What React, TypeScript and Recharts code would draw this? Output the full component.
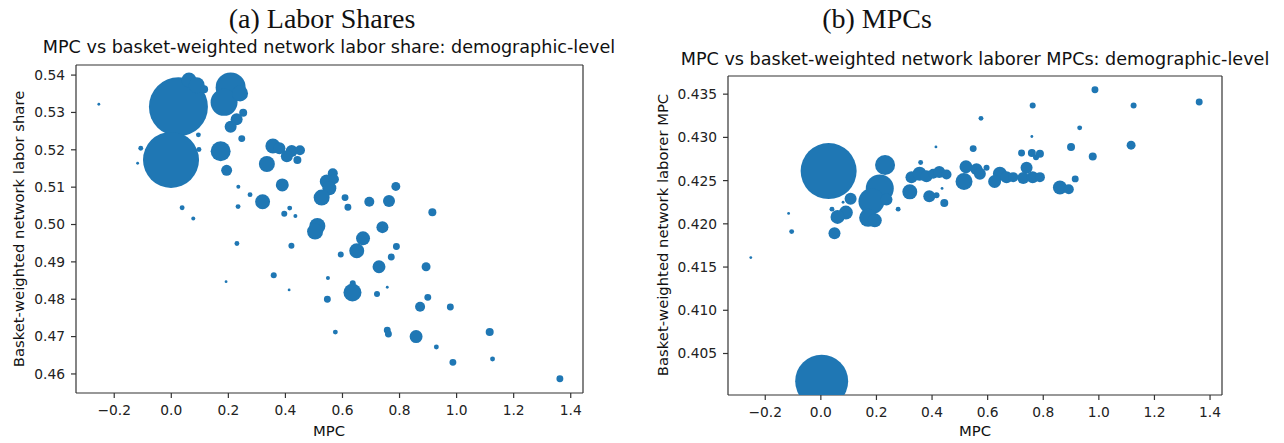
import { ScatterChart, Scatter, XAxis, YAxis, ZAxis } from "recharts";

// panel (a): MPC vs basket-weighted network labor share
const shareMpc = [
  -0.254, 0.025, -0.001, 0.062, 0.089, 0.115, -0.107, -0.118, 0.095, 0.097,
  0.208, 0.185, 0.241, 0.252, 0.229, 0.208, 0.247, 0.173, 0.194, 0.235,
  0.276, 0.32, 0.234, 0.038, 0.077, 0.356, 0.379, 0.335, 0.422, 0.451,
  0.405, 0.442, 0.389, 0.415, 0.396, 0.435, 0.566, 0.545, 0.57, 0.554,
  0.527, 0.609, 0.619, 0.694, 0.763, 0.787, 0.915, 0.512, 0.504, 0.74,
  0.672, 0.65, 0.789, 0.771, 0.728, 0.893, 0.594, 0.23, 0.421, 0.359,
  0.549, 0.636, 0.635, 0.757, 0.721, 0.547, 0.899, 0.872, 0.978, 0.757,
  0.761, 0.575, 0.858, 1.116, 0.929, 0.987, 1.126, 1.362, 0.192, 0.413,
];
const laborShare = [
  0.5322, 0.5315, 0.5173, 0.5387, 0.5373, 0.5362, 0.5204, 0.5164, 0.524, 0.5201,
  0.5367, 0.5327, 0.5351, 0.5299, 0.5282, 0.5262, 0.523, 0.5196, 0.5145, 0.5101,
  0.508, 0.5061, 0.5048, 0.5045, 0.5016, 0.521, 0.5204, 0.5162, 0.5197, 0.5199,
  0.5183, 0.5173, 0.5106, 0.5044, 0.5029, 0.5023, 0.5137, 0.5115, 0.5121, 0.5097,
  0.5072, 0.5072, 0.5046, 0.5061, 0.5063, 0.5102, 0.5033, 0.4996, 0.4981, 0.4993,
  0.4963, 0.493, 0.4941, 0.4913, 0.4887, 0.4887, 0.492, 0.4949, 0.4943, 0.4864,
  0.4857, 0.4843, 0.4818, 0.4832, 0.4814, 0.48, 0.4805, 0.478, 0.4779, 0.4717,
  0.4707, 0.4712, 0.47, 0.4712, 0.4672, 0.4631, 0.464, 0.4587, 0.4847, 0.4825,
];
const shareWeight = [
  2, 870, 784, 56, 64, 16, 6, 2, 6, 6,
  225, 182, 64, 16, 36, 36, 12, 100, 30, 4,
  6, 56, 6, 6, 4, 56, 36, 64, 36, 25,
  36, 16, 42, 6, 9, 4, 25, 49, 25, 49,
  64, 12, 12, 25, 36, 20, 16, 64, 64, 36,
  49, 56, 12, 12, 42, 20, 9, 6, 9, 9,
  4, 9, 81, 2, 9, 12, 12, 25, 12, 12,
  12, 6, 42, 16, 6, 12, 6, 12, 2, 2,
];

// panel (b): MPC vs basket-weighted network laborer MPC
const netMpc = [
  -0.252, -0.116, -0.105, 0.028, 0.003, 0.04, 0.08, 0.107, 0.09, 0.06,
  0.049, 0.231, 0.212, 0.182, 0.17, 0.194, 0.236, 0.278, 0.32, 0.326,
  0.355, 0.38, 0.404, 0.426, 0.452, 0.359, 0.414, 0.39, 0.416, 0.436,
  0.444, 0.576, 0.548, 0.596, 0.522, 0.515, 0.56, 0.572, 0.644, 0.625,
  0.668, 0.692, 0.722, 0.74, 0.728, 0.762, 0.788, 0.759, 0.788, 0.774,
  0.759, 0.762, 0.9, 0.931, 0.986, 0.978, 0.86, 0.892, 0.915, 1.116,
  1.125, 1.361,
];
const laborerMpc = [
  0.4161, 0.4212, 0.4191, 0.4261, 0.4018, 0.4217, 0.4225, 0.4229, 0.4213, 0.4208,
  0.4189, 0.4268, 0.4241, 0.4226, 0.4207, 0.4204, 0.4228, 0.4217, 0.4237, 0.4254,
  0.4258, 0.4255, 0.4258, 0.426, 0.4257, 0.4271, 0.4289, 0.4232, 0.4233, 0.4241,
  0.4224, 0.4322, 0.4287, 0.4265, 0.4266, 0.4249, 0.4263, 0.4258, 0.4258, 0.4249,
  0.4254, 0.4254, 0.4282, 0.4265, 0.4253, 0.4254, 0.4254, 0.4282, 0.4281, 0.4277,
  0.4301, 0.4337, 0.4289, 0.4311, 0.4355, 0.4278, 0.4242, 0.424, 0.4252, 0.4291,
  0.4337, 0.4341,
];
const netWeight = [
  2, 2, 6, 784, 702, 6, 2, 36, 49, 49,
  36, 100, 196, 169, 81, 49, 36, 6, 56, 36,
  49, 36, 25, 36, 25, 6, 2, 36, 9, 2,
  16, 6, 12, 9, 42, 72, 36, 36, 49, 42,
  36, 25, 12, 36, 36, 36, 25, 16, 16, 9,
  2, 9, 16, 6, 12, 16, 49, 25, 12, 20,
  9, 12,
];

const mpcTicks = [-0.2, 0, 0.2, 0.4, 0.6, 0.8, 1.0, 1.2, 1.4];
const shareTicks = [0.46, 0.47, 0.48, 0.49, 0.5, 0.51, 0.52, 0.53, 0.54];
const laborerTicks = [0.405, 0.41, 0.415, 0.42, 0.425, 0.43, 0.435];

const blue = "#1f77b4";
const font = "'DejaVu Sans', sans-serif";
const tickStyle = { fontSize: 13.8, fill: "#222", fontFamily: font };
const axisLine = { stroke: "#333", strokeWidth: 1.2 };

const fmtSigned = (d: number) => (v: number) =>
  (v < 0 ? "\u2212" : "") + Math.abs(v).toFixed(d);

const toPoints = (xs: number[], ys: number[], ws: number[]) =>
  xs.map((x, i) => ({ x, y: ys[i], w: ws[i] }));

function Panel(props: {
  data: { x: number; y: number; w: number }[];
  yDomain: [number, number];
  yTicks: number[];
  yDigits: number;
  width: number;
  yAxisWidth: number;
  margin: { top: number; right: number; bottom: number; left: number };
}) {
  const xDomain: [number, number] = [-0.334, 1.443];
  return (
    <ScatterChart width={props.width} height={443} margin={props.margin}>
      <XAxis
        type="number"
        dataKey="x"
        domain={xDomain}
        ticks={mpcTicks}
        allowDataOverflow
        height={30}
        tickSize={5}
        tickMargin={7}
        tick={tickStyle}
        tickFormatter={fmtSigned(1)}
        axisLine={axisLine}
        tickLine={axisLine}
      />
      <XAxis
        xAxisId="top"
        orientation="top"
        type="number"
        domain={xDomain}
        height={1}
        tick={false}
        tickLine={false}
        axisLine={axisLine}
      />
      <YAxis
        type="number"
        dataKey="y"
        domain={props.yDomain}
        ticks={props.yTicks}
        allowDataOverflow
        width={props.yAxisWidth}
        tickSize={5}
        tickMargin={6}
        tick={tickStyle}
        tickFormatter={fmtSigned(props.yDigits)}
        axisLine={axisLine}
        tickLine={axisLine}
      />
      <YAxis
        yAxisId="right"
        orientation="right"
        type="number"
        domain={props.yDomain}
        width={1}
        tick={false}
        tickLine={false}
        axisLine={axisLine}
      />
      <ZAxis type="number" dataKey="w" domain={[0, 1000]} range={[0, 1000 * Math.PI]} />
      <Scatter data={props.data} fill={blue} isAnimationActive={false} />
    </ScatterChart>
  );
}

export default function App() {
  const left = toPoints(shareMpc, laborShare, shareWeight);
  const right = toPoints(netMpc, laborerMpc, netWeight);
  return (
    <div
      style={{
        position: "absolute",
        left: 0,
        top: 0,
        width: 1284,
        height: 443,
        background: "#fff",
        overflow: "hidden",
      }}
    >
      <div style={{ position: "absolute", left: 0, top: 0 }}>
        <Panel
          data={left}
          yDomain={[0.4549, 0.5427]}
          yTicks={shareTicks}
          yDigits={2}
          width={600}
          yAxisWidth={60}
          margin={{ top: 64, right: 16, bottom: 20, left: 16 }}
        />
      </div>
      <div style={{ position: "absolute", left: 642, top: 0 }}>
        <Panel
          data={right}
          yDomain={[0.4002, 0.4371]}
          yTicks={laborerTicks}
          yDigits={3}
          width={642}
          yAxisWidth={70}
          margin={{ top: 75, right: 61, bottom: 18, left: 16 }}
        />
      </div>
      <svg
        width={1284}
        height={443}
        style={{ position: "absolute", left: 0, top: 0, pointerEvents: "none" }}
      >
        <g fontFamily="'Liberation Serif', serif" fontSize={28} fill="#111" textAnchor="middle">
          <text x={322} y={28}>(a) Labor Shares</text>
          <text x={877} y={28}>(b) MPCs</text>
        </g>
        <g fontFamily={font} fontSize={17.6} fill="#111" textAnchor="middle">
          <text x={329} y={53}>MPC vs basket-weighted network labor share: demographic-level</text>
          <text x={975} y={65}>MPC vs basket-weighted network laborer MPCs: demographic-level</text>
        </g>
        <g fontFamily={font} fontSize={14.8} fill="#111" textAnchor="middle">
          <text x={329} y={436}>MPC</text>
          <text x={975} y={436}>MPC</text>
          <text transform="translate(24,229) rotate(-90)">Basket-weighted network labor share</text>
          <text transform="translate(668,235) rotate(-90)">Basket-weighted network laborer MPC</text>
        </g>
      </svg>
    </div>
  );
}
